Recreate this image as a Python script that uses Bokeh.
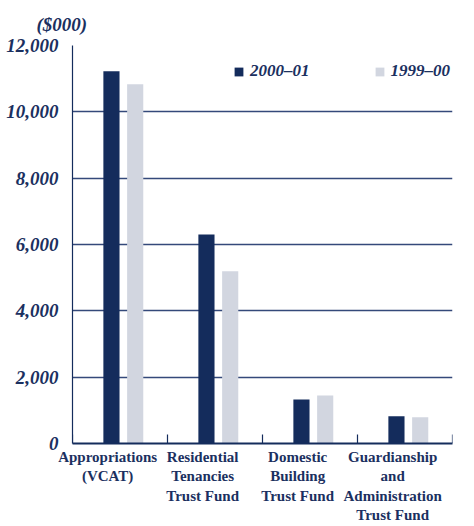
from bokeh.plotting import figure
from bokeh.models import FixedTicker, Legend, LegendItem, ColumnDataSource, NumeralTickFormatter
from bokeh.embed import file_html
from bokeh.resources import INLINE

categories = ["Appropriations\n(VCAT)", "Residential\nTenancies\nTrust Fund",
              "Domestic\nBuilding\nTrust Fund", "Guardianship\nand\nAdministration\nTrust Fund"]
series_2000_01 = [11220, 6300, 1330, 820]
series_1999_00 = [10830, 5190, 1450, 790]
y_ticks = [0, 2000, 4000, 6000, 8000, 10000, 12000]

NAVY = "#142c5c"
LIGHT = "#d2d6e0"
TEXT = "#1b3060"
SERIF = "Liberation Serif"

n = len(categories)
idx = list(range(n))
src = ColumnDataSource(dict(
    x_dark=[i + 0.41 for i in idx],
    x_light=[i + 0.66 for i in idx],
    a=series_2000_01,
    b=series_1999_00,
))
label_pos = [i + 0.37 for i in idx]
bounds = list(range(n + 1))

p = figure(width=474, height=526, output_backend="svg", toolbar_location=None,
           x_range=(0, n), y_range=(0, 12000),
           min_border_left=72, min_border_right=22, min_border_top=45, min_border_bottom=81)
p.outline_line_color = None
p.background_fill_color = "white"

r1 = p.vbar(x="x_dark", top="a", width=0.17, source=src, fill_color=NAVY, line_color=None)
r2 = p.vbar(x="x_light", top="b", width=0.17, source=src, fill_color=LIGHT, line_color=None)

# category boundary ticks (pointing up into the plot)
p.segment(x0=bounds, y0=[0] * len(bounds), x1=bounds, y1=[270] * len(bounds),
          line_color=NAVY, line_width=1.2)

# y axis
p.yaxis.ticker = FixedTicker(ticks=y_ticks)
p.yaxis.formatter = NumeralTickFormatter(format="0,0")
p.yaxis.major_label_text_font = SERIF
p.yaxis.major_label_text_font_style = "bold italic"
p.yaxis.major_label_text_font_size = "19px"
p.yaxis.major_label_text_color = TEXT
p.yaxis.major_label_standoff = 8
p.yaxis.major_tick_line_color = None
p.yaxis.minor_tick_line_color = None
p.yaxis.axis_line_color = NAVY
p.yaxis.axis_line_width = 1.2

# x axis with multi-line category labels
p.xaxis.ticker = FixedTicker(ticks=label_pos)
p.xaxis.major_label_overrides = {pos: lab for pos, lab in zip(label_pos, categories)}
p.xaxis.major_label_text_font = SERIF
p.xaxis.major_label_text_font_style = "bold"
p.xaxis.major_label_text_font_size = "15px"
p.xaxis.major_label_text_color = TEXT
p.xaxis.major_label_text_line_height = 1.22
p.xaxis.major_label_standoff = 5
p.xaxis.major_tick_in = 0
p.xaxis.major_tick_out = 0
p.xaxis.major_tick_line_color = None
p.xaxis.minor_tick_line_color = None
p.xaxis.axis_line_color = NAVY
p.xaxis.axis_line_width = 2

p.xgrid.grid_line_color = None
p.ygrid.ticker = FixedTicker(ticks=y_ticks)
p.ygrid.grid_line_color = "#34497a"
p.ygrid.grid_line_width = 1.5

legend = Legend(items=[LegendItem(label="2000–01", renderers=[r1]),
                       LegendItem(label="1999–00", renderers=[r2])],
                orientation="horizontal", location=(161, 362),
                glyph_width=11, glyph_height=11, label_standoff=6, spacing=64,
                padding=0, margin=0, border_line_color=None, background_fill_alpha=0,
                label_text_font=SERIF, label_text_font_style="bold italic",
                label_text_font_size="17px", label_text_color=TEXT)
p.add_layout(legend, "center")

p.title.text = "($000)"
p.title.align = "left"
p.title.offset = -36
p.title.standoff = 21
p.title.text_font = SERIF
p.title.text_font_style = "bold italic"
p.title.text_font_size = "19px"
p.title.text_color = TEXT

open("out.html", "w").write(file_html(p, INLINE))
